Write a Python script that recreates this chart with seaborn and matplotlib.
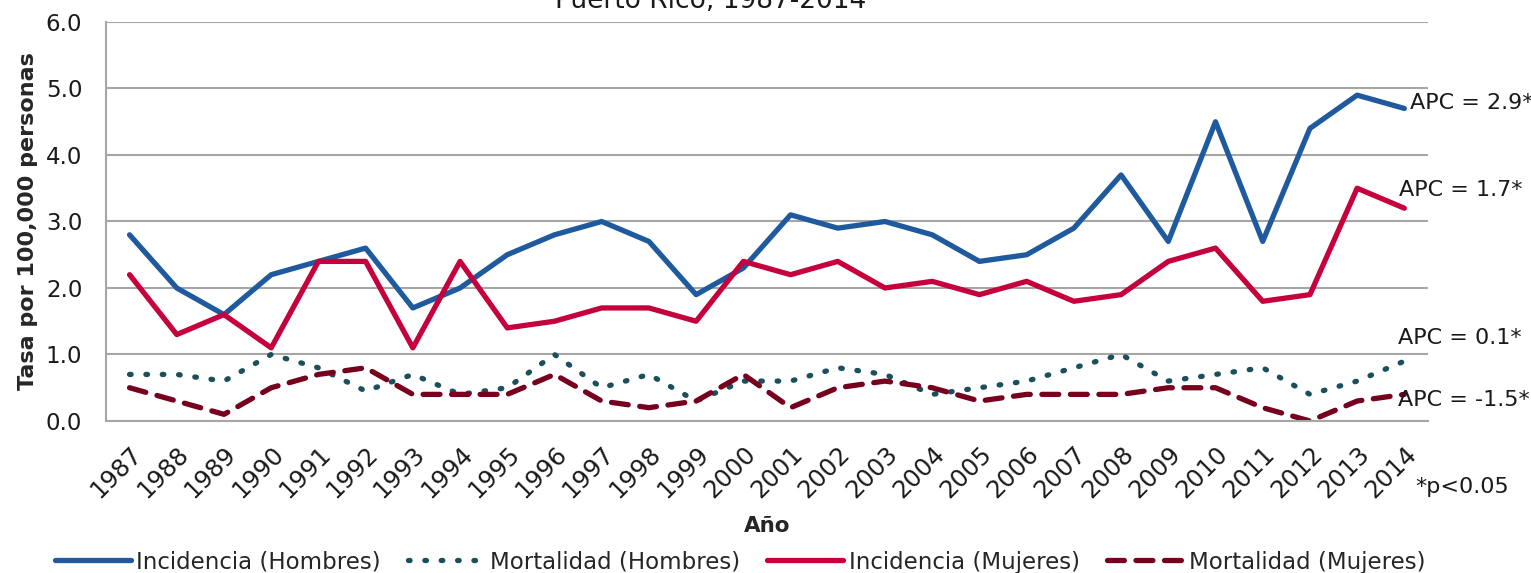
import numpy as np
import pandas as pd
import seaborn as sns
import matplotlib.pyplot as plt

years = list(range(1987, 2015))
inc_hombres = [2.8, 2.0, 1.6, 2.2, 2.4, 2.6, 1.7, 2.0, 2.5, 2.8, 3.0, 2.7, 1.9, 2.3,
               3.1, 2.9, 3.0, 2.8, 2.4, 2.5, 2.9, 3.7, 2.7, 4.5, 2.7, 4.4, 4.9, 4.7]
mort_hombres = [0.7, 0.7, 0.6, 1.0, 0.8, 0.45, 0.7, 0.4, 0.5, 1.0, 0.5, 0.7, 0.3, 0.6,
                0.6, 0.8, 0.7, 0.4, 0.5, 0.6, 0.8, 1.0, 0.6, 0.7, 0.8, 0.4, 0.6, 0.9]
inc_mujeres = [2.2, 1.3, 1.6, 1.1, 2.4, 2.4, 1.1, 2.4, 1.4, 1.5, 1.7, 1.7, 1.5, 2.4,
               2.2, 2.4, 2.0, 2.1, 1.9, 2.1, 1.8, 1.9, 2.4, 2.6, 1.8, 1.9, 3.5, 3.2]
mort_mujeres = [0.5, 0.3, 0.1, 0.5, 0.7, 0.8, 0.4, 0.4, 0.4, 0.7, 0.3, 0.2, 0.3, 0.7,
                0.2, 0.5, 0.6, 0.5, 0.3, 0.4, 0.4, 0.4, 0.5, 0.5, 0.2, 0.0, 0.3, 0.4]
apc_labels = ['APC = 2.9*', 'APC = 1.7*', 'APC = 0.1*', 'APC = -1.5*']

sns.set_style('white')
plt.rcParams['font.family'] = ['DejaVu Sans']

fig = plt.figure(figsize=(15.31, 5.73), dpi=100)
ax = fig.add_axes([0.0692, 0.2653, 0.8635, 0.6963])

x = np.arange(len(years))
series = [
    ('Incidencia (Hombres)', inc_hombres, '#1F5A9E', '-'),
    ('Mortalidad (Hombres)', mort_hombres, '#1B4F5C', (0, (0.3, 2.8))),
    ('Incidencia (Mujeres)', inc_mujeres, '#C5003D', '-'),
    ('Mortalidad (Mujeres)', mort_mujeres, '#76001E', (0, (3.2, 2.2))),
]
for name, vals, col, ls in series:
    sns.lineplot(x=x, y=vals, ax=ax, color=col, linewidth=3.8, linestyle=ls,
                 label=name, solid_capstyle='round', dash_capstyle='round')

ax.set_xlim(-0.5, len(years) - 0.5)
ax.set_ylim(0, 6)
ax.set_yticks(np.arange(0, 6.1, 1.0))
ax.set_yticklabels([f'{v:.1f}' for v in np.arange(0, 6.1, 1.0)])
ax.yaxis.grid(True, color='#A6A6A6', linewidth=1.5)
ax.xaxis.grid(False)
ax.set_axisbelow(True)

ax.set_xticks(x)
ax.set_xticklabels([str(y) for y in years], rotation=45, ha='right', va='top',
                   rotation_mode='anchor')
ax.set_xticks(np.arange(-0.5, len(years)), minor=True)
ax.tick_params(axis='x', which='major', length=0, pad=15, labelsize=17.5, labelcolor='#1a1a1a')
ax.tick_params(axis='x', which='minor', length=9, width=1.5, color='#A6A6A6', direction='out')
ax.tick_params(axis='y', length=9, width=1.5, color='#A6A6A6', direction='out',
               pad=8, labelsize=16.5, labelcolor='#1a1a1a')

for s in ['top', 'right']:
    ax.spines[s].set_visible(False)
for s in ['left', 'bottom']:
    ax.spines[s].set_color('#A6A6A6')
    ax.spines[s].set_linewidth(1.5)

ax.set_ylabel('Tasa por 100,000 personas', fontsize=16, fontweight='bold', labelpad=6)
ax.set_xlabel('Año', fontsize=15.5, fontweight='bold', labelpad=10)

apc_pos = [(27.12, 4.78), (26.88, 3.47), (26.86, 1.25), (26.86, 0.32)]
for lab, (px, py) in zip(apc_labels, apc_pos):
    ax.text(px, py, lab, fontsize=16, va='center', ha='left', color='#1a1a1a', clip_on=False)

fig.text(1415 / 1531, 1 - 487 / 573, '*p<0.05', fontsize=16, va='center', ha='left', color='#1a1a1a')
fig.text(711 / 1531, 1 - 8 / 573, 'Puerto Rico, 1987-2014', fontsize=19, ha='center',
         va='baseline', color='#1a1a1a')

ax.legend(loc='center', bbox_to_anchor=(740 / 1531, 1 - 562 / 573), bbox_transform=fig.transFigure,
          ncol=4, frameon=False, fontsize=16.5, handlelength=3.3, handletextpad=0.25,
          columnspacing=1.2)

fig.savefig('out.png', dpi=100)
